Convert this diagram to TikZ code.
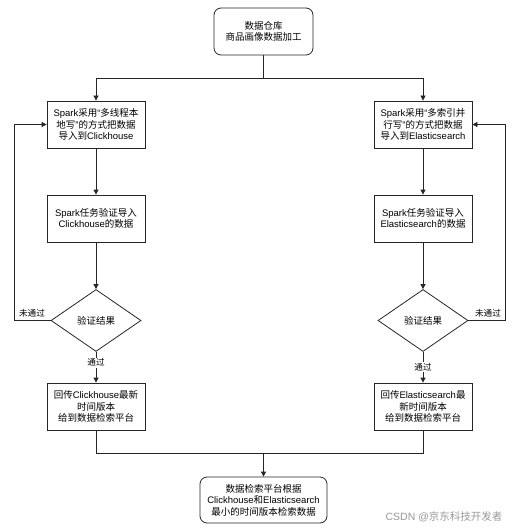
\documentclass[tikz,border=0pt]{standalone}
\usepackage{fontspec}
\setmainfont{Noto Sans CJK SC}
\newfontfamily\latf{Liberation Sans}
\newcommand{\lt}[1]{{\latf #1}}
\usetikzlibrary{arrows.meta,shapes.geometric}
\tikzset{
  box/.style={draw=black!85, line width=0.8pt, fill=white, minimum width=98pt, minimum height=47pt, inner sep=1pt, align=center, font=\fontsize{9.5}{11.4}\selectfont},
  rbox/.style={box, rounded corners=7pt},
  dia/.style={draw=black!85, line width=0.8pt, diamond, aspect=1.45, minimum width=90pt, minimum height=62pt, inner sep=0pt, font=\fontsize{9.5}{11.4}\selectfont},
  conn/.style={draw=black!85, line width=0.8pt},
  arr/.style={conn, -{Triangle[length=5pt,width=5pt]}},
  lbl/.style={font=\fontsize{8.6}{10}\selectfont, fill=white, inner sep=1pt},
}
\begin{document}
\begin{tikzpicture}[x=1pt,y=-1pt]
\useasboundingbox[fill=white] (0,0) rectangle (520,532);
\node[rbox, minimum width=99pt] (top) at (263.5,31.5) {数据仓库\\商品画像数据加工};
\node[box] (l1) at (96,124.5) {\lt{Spark}采用\lt{“}多线程本\\地写\lt{”}的方式把数据\\导入到\lt{Clickhouse}};
\node[box] (r1) at (423,124.5) {\lt{Spark}采用\lt{“}多索引并\\行写\lt{”}的方式把数据\\导入到\lt{Elasticsearch}};
\node[box] (l2) at (96,218.5) {\lt{Spark}任务验证导入\\\lt{Clickhouse}的数据};
\node[box] (r2) at (423,218.5) {\lt{Spark}任务验证导入\\\lt{Elasticsearch}的数据};
\node[dia] (ld) at (96,320.5) {验证结果};
\node[dia] (rd) at (423,320.5) {验证结果};
\node[box] (l3) at (96,406.5) {回传\lt{Clickhouse}最新\\时间版本\\给到数据检索平台};
\node[box] (r3) at (423,406.5) {回传\lt{Elasticsearch}最\\新时间版本\\给到数据检索平台};
\node[rbox, minimum width=127pt, minimum height=46pt] (bot) at (263.5,500) {数据检索平台根据\\\lt{Clickhouse}和\lt{Elasticsearch}\\最小的时间版本检索数据};
\coordinate (sp) at (263.5,78);
\coordinate (mg) at (263.5,453);
\coordinate (lx) at (14,320.5);
\coordinate (rx) at (505,320.5);
\draw[conn] (top) -- (sp);
\draw[arr] (sp) -| (l1);
\draw[arr] (sp) -| (r1);
\draw[arr] (l1) -- (l2);
\draw[arr] (r1) -- (r2);
\draw[arr] (l2) -- (ld);
\draw[arr] (r2) -- (rd);
\draw[arr] (ld) -- node[lbl, pos=0.35] {通过} (l3);
\draw[arr] (rd) -- node[lbl, pos=0.5] {通过} (r3);
\draw[arr] (ld.west) -- (lx) |- (l1.west);
\draw[arr] (rd.east) -- (rx) |- (r1.east);
\node[lbl, fill=none] (lno) at (32,313) {未通过};
\node[lbl, fill=none] (rno) at (488,313) {未通过};
\draw[conn] (l3) |- (mg);
\draw[conn] (r3) |- (mg);
\draw[arr] (mg) -- (bot);
\node[font=\fontsize{10.5}{12}\selectfont, text=black!40, anchor=east] (wm) at (506,517) {\lt{CSDN @}京东科技开发者};
\end{tikzpicture}
\end{document}
